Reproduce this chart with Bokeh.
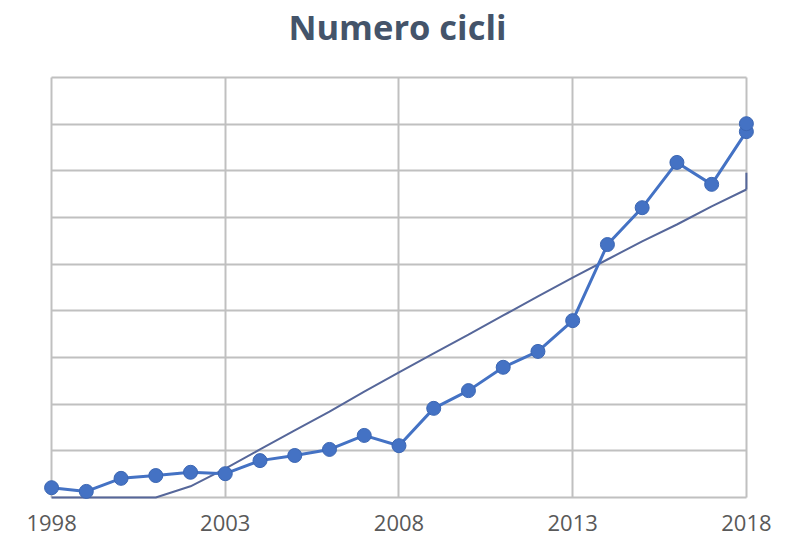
from bokeh.plotting import figure
from bokeh.models import FixedTicker, Range1d
from bokeh.core.properties import value
from bokeh.embed import file_html
from bokeh.resources import INLINE

title_text = "Numero cicli"
years = list(range(1998, 2019))
cycles = [0.21, 0.13, 0.41, 0.47, 0.54, 0.51, 0.79, 0.90, 1.03, 1.33, 1.11,
          1.91, 2.29, 2.79, 3.13, 3.79, 5.42, 6.21, 7.18, 6.71, 7.84]
extra_year = [2018]
extra_value = [8.01]
trend = [0.0, 0.0, 0.0, 0.0, 0.24, 0.62, 1.03, 1.44, 1.84, 2.27, 2.68,
         3.09, 3.49, 3.90, 4.31, 4.71, 5.10, 5.49, 5.85, 6.24, 6.60]
trend_end_x = [2018, 2018]
trend_end_y = [6.60, 6.96]
x_ticks = [1998, 2003, 2008, 2013, 2018]
x_tick_labels = [str(t) for t in x_ticks]
y_grid = list(range(0, 10))

x0, x1 = 1996.53, 2019.50
y0, y1 = -0.836, 10.65

p = figure(width=798, height=536, output_backend="svg", toolbar_location=None,
           x_range=Range1d(x0, x1), y_range=Range1d(y0, y1),
           min_border=0)
p.outline_line_color = None
p.background_fill_color = "white"
p.border_fill_color = "white"
p.xaxis.visible = False
p.yaxis.visible = False

p.xgrid.ticker = FixedTicker(ticks=x_ticks)
p.ygrid.ticker = FixedTicker(ticks=y_grid)
for g in (p.xgrid[0], p.ygrid[0]):
    g.grid_line_color = "#C0C0C0"
    g.grid_line_width = 2
p.xgrid[0].cross_bounds = (y_grid[0], y_grid[-1])
p.ygrid[0].cross_bounds = (x_ticks[0], x_ticks[-1])

# title
p.text(x=[(x0 + x1) / 2 - 0.06], y=[10.09], text=[title_text],
       text_font=value("Open Sans"), text_font_size="34.5px",
       text_font_style="bold", text_color="#44546A",
       text_align="center", text_baseline="alphabetic")

# x tick labels
p.text(x=x_ticks, y=[-0.536] * len(x_ticks), text=x_tick_labels,
       text_font=value("Open Sans"), text_font_size="22px",
       text_color="#595959", text_align="center", text_baseline="alphabetic")

p.line(years, trend, line_color="#56679A", line_width=2)
p.line(trend_end_x, trend_end_y, line_color="#56679A", line_width=2)

p.line(years + extra_year, cycles + extra_value, line_color="#4472C4", line_width=3)
p.scatter(years, cycles, size=14, fill_color="#4472C4", line_color="#3B66B3", line_width=1)
p.scatter(extra_year, extra_value, size=14, fill_color="#4472C4", line_color="#3B66B3", line_width=1)

open("out.html", "w").write(file_html(p, INLINE))
